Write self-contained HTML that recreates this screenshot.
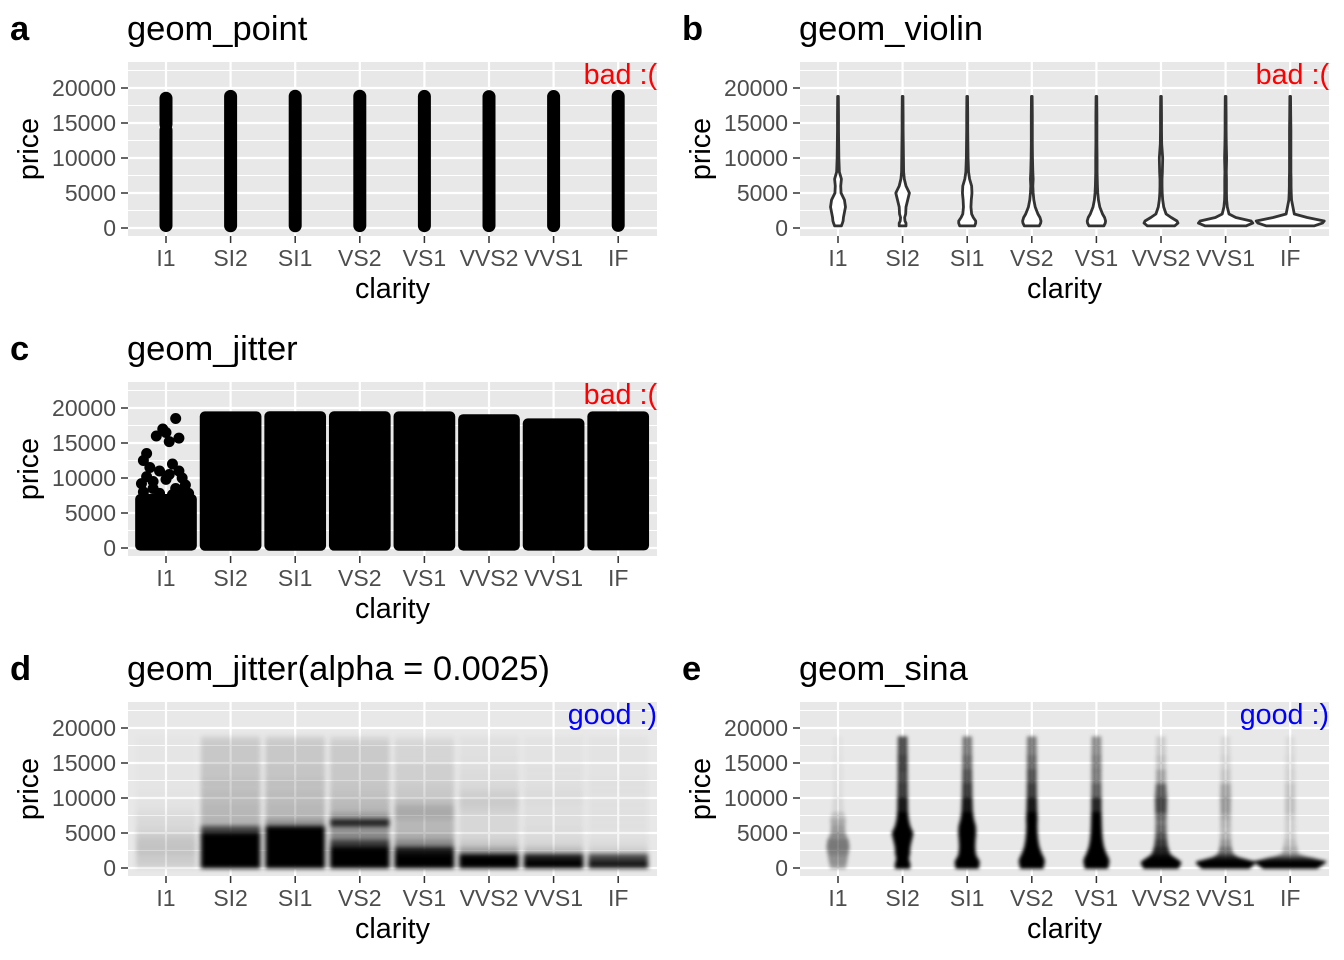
<!DOCTYPE html>
<html><head><meta charset="utf-8"><style>
html,body{margin:0;padding:0;background:#fff;}
svg{display:block;font-family:"Liberation Sans",sans-serif;}
</style></head><body>
<svg id="fig" width="1344" height="960" viewBox="0 0 1344 960" xmlns="http://www.w3.org/2000/svg">
<defs>
<filter id="blur" x="-20%" y="-5%" width="140%" height="110%"><feGaussianBlur stdDeviation="1.8"/></filter>
<filter id="blur2" x="-20%" y="-5%" width="140%" height="110%"><feGaussianBlur stdDeviation="2.5"/></filter>
</defs>
</svg>
<script>
// ---------- data ----------
const categories = ["I1","SI2","SI1","VS2","VS1","VVS2","VVS1","IF"];
const yTicks = [0,5000,10000,15000,20000];
const yTickLabels = ["0","5000","10000","15000","20000"];
// geom_point: price intervals per clarity
const pointIntervals = [
  [[345,14000],[14800,18531]],
  [[326,18804]],[[326,18818]],[[334,18823]],[[327,18795]],[[336,18768]],[[336,18777]],[[369,18806]]
];
// violin price grid and relative densities
const priceGrid = [300,700,1000,1500,2000,3000,4000,5000,6000,7000,8000,10000,12000,14000,16000,18800];
const violinDensity = [
  [10,13,15,16,18,22,19,9,8,10,4,2.5,2,1.5,1.5,1],
  [10,10,7,6,9,10,15,20,10,5,3,2.5,2,1.5,1.5,1],
  [22,25,25,18,13,11,12,14,13,7,4,2.5,2,1.5,1.5,1],
  [22,26,27,24,18,10,6,4,3,4,3,2,1.5,1.5,1.5,1],
  [22,26,27,24,18,10,6,4,3,2.5,2,2,1.5,1.5,1.5,1],
  [40,50,47,30,15,8,5,3.5,3,3,4,5,2,1.5,1.5,1],
  [60,80,75,30,10,5,3,2.5,2.5,2.5,2,3,2,1.5,1.5,1],
  [70,95,100,50,12,8,4,3,2.5,2.5,2,2,2,2,1.5,1]
];
// sina opacity per grid point
const sinaOpacity = [
  [0.3,0.35,0.35,0.35,0.4,0.5,0.45,0.35,0.3,0.25,0.1,0.05,0.04,0.03,0.03,0.02],
  [1,1,1,1,1,1,1,1,1,1,1,0.8,0.7,0.7,0.75,0.6],
  [1,1,1,1,1,1,1,1,1,1,1,0.8,0.7,0.6,0.5,0.45],
  [1,1,1,1,1,1,1,1,1,1,1,0.8,0.7,0.6,0.5,0.45],
  [1,1,1,1,1,1,1,1,1,1,1,0.7,0.5,0.45,0.45,0.35],
  [1,1,1,1,0.9,0.8,0.7,0.6,0.5,0.5,0.6,0.8,0.4,0.2,0.15,0.1],
  [1,1,1,0.9,0.6,0.4,0.3,0.2,0.2,0.25,0.3,0.4,0.2,0.1,0.1,0.05],
  [1,1,1,0.7,0.3,0.2,0.15,0.1,0.1,0.1,0.15,0.2,0.1,0.08,0.06,0.05]
];
// jitter: price range per clarity (dense part)
const jitterMin = [345,326,326,334,327,336,336,369];
const jitterMax = [7000,18804,18818,18823,18795,18400,17800,18806];
// I1 sparse points: [x offset (category units), price]
const i1Outliers = [[-0.3,13500],[-0.15,16000],[0.05,15200],[0.2,15700],[-0.05,17000],[0.0,16500],[0.15,18500],[-0.35,12500],[-0.25,11500],[-0.1,11000],[0.05,10500],[0.1,12000],[0.25,10000],[-0.2,9500],[0.3,9000],[0.15,8500],[-0.3,10200],[0.0,9800],[0.35,7800],[0.25,8200],[-0.35,8000],[-0.2,8500],[0.1,7600],[-0.1,7800],[-0.38,9200],[0.2,11000]];
// alpha jitter: opacity per 1000-price bin
const binEdges = [0,1000,2000,3000,4000,5000,6000,7000,8000,9000,10000,11000,12000,13000,14000,15000,16000,17000,18000,18823];
const jitterAlpha = [
  [0.1,0.12,0.15,0.15,0.12,0.08,0.06,0.05,0.03,0.02,0.02,0.01,0.01,0.01,0.01,0.01,0.01,0.01,0.01],
  [1,1,1,1,1,0.7,0.22,0.2,0.2,0.18,0.18,0.16,0.16,0.14,0.14,0.13,0.13,0.13,0.1],
  [1,1,1,1,1,1,0.35,0.2,0.2,0.18,0.18,0.16,0.16,0.14,0.14,0.13,0.13,0.13,0.1],
  [1,1,1,0.75,0.4,0.35,0.85,0.3,0.2,0.18,0.16,0.14,0.13,0.13,0.13,0.12,0.12,0.12,0.08],
  [1,1,0.9,0.4,0.25,0.2,0.2,0.25,0.25,0.17,0.13,0.12,0.1,0.1,0.1,0.08,0.08,0.08,0.05],
  [1,1,0.3,0.13,0.08,0.07,0.07,0.07,0.1,0.12,0.1,0.07,0.05,0.05,0.04,0.04,0.03,0.03,0.03],
  [1,0.9,0.18,0.08,0.05,0.05,0.04,0.04,0.04,0.05,0.05,0.04,0.03,0.03,0.03,0.02,0.02,0.02,0.02],
  [0.9,0.7,0.1,0.05,0.03,0.03,0.03,0.03,0.03,0.03,0.03,0.03,0.03,0.02,0.02,0.02,0.02,0.02,0.02]
];

// ---------- drawing ----------
const NS = "http://www.w3.org/2000/svg";
const svg = document.getElementById("fig");
function mk(tag, attrs, parent){
  const e = document.createElementNS(NS, tag);
  for (const k in attrs) e.setAttribute(k, attrs[k]);
  (parent||svg).appendChild(e); return e;
}
const PW = 529, PH = 174, STEP = 64.6;
function panel(ox, oy, tag, title, note, noteColor){
  const g = mk("g", {transform:`translate(${ox},${oy})`});
  
  
  const X = c => 166 + c*STEP;
  const Y = p => 228 - p*0.007;
  const bg = mk("rect",{x:128,y:62,width:PW,height:PH,fill:"#E8E8E8"},g);
  
  
  for (let p=2500; p<=22500; p+=5000) mk("line",{x1:128,x2:657,y1:Y(p),y2:Y(p),stroke:"#fff","stroke-width":1.1},g);
  yTicks.forEach(p=>mk("line",{x1:128,x2:657,y1:Y(p),y2:Y(p),stroke:"#fff","stroke-width":2.2},g));
  categories.forEach((c,i)=>mk("line",{x1:X(i),x2:X(i),y1:62,y2:236,stroke:"#fff","stroke-width":2.2},g));
  const marks = mk("g",{},g);
  
  
  yTicks.forEach((p,i)=>{
    mk("line",{x1:121,x2:128,y1:Y(p),y2:Y(p),stroke:"#333","stroke-width":1.5},g);
    const t = mk("text",{x:116,y:Y(p)+8,"text-anchor":"end","font-size":23,fill:"#4D4D4D"},g);
    t.textContent = yTickLabels[i];
    
    
  });
  categories.forEach((c,i)=>{
    mk("line",{x1:X(i),x2:X(i),y1:236,y2:243,stroke:"#333","stroke-width":1.5},g);
    const t = mk("text",{x:X(i),y:266,"text-anchor":"middle","font-size":23,fill:"#4D4D4D"},g);
    t.textContent = c;
    
    
  });
  const xt = mk("text",{x:392.5,y:298,"text-anchor":"middle","font-size":28.7,fill:"#000"},g);
  xt.textContent = "clarity";
  
  
  const yt = mk("text",{x:0,y:0,"text-anchor":"middle","font-size":28.7,fill:"#000",transform:"translate(38,149) rotate(-90)"},g);
  yt.textContent = "price";
  
  
  const tt = mk("text",{x:127,y:40,"font-size":34.5,fill:"#000"},g);
  tt.textContent = title;
  
  
  const tg = mk("text",{x:10,y:40,"font-size":34.5,"font-weight":"bold",fill:"#000"},g);
  tg.textContent = tag;
  
  
  const nt = mk("text",{x:657,y:84,"text-anchor":"end","font-size":28.7,fill:noteColor},g);
  nt.textContent = note;
  
  
  return {g:marks, X, Y};
}

// a: geom_point
(function(){
  const {g,X,Y} = panel(0,0,"a","geom_point","bad :(","#FF0000");
  pointIntervals.forEach((ivs,i)=>ivs.forEach(iv=>{
    const l = mk("line",{x1:X(i),x2:X(i),y1:Y(iv[0]),y2:Y(iv[1]),stroke:"#000","stroke-width":13,"stroke-linecap":"round"},g);
    
    
  }));
})();

// b: violin
(function(){
  const {g,X,Y} = panel(672,0,"b","geom_violin","bad :(","#FF0000");
  const S = 0.34;
  violinDensity.forEach((d,i)=>{
    let pts = [];
    priceGrid.forEach((p,k)=>pts.push([X(i)+d[k]*S, Y(p)]));
    for (let k=priceGrid.length-1;k>=0;k--) pts.push([X(i)-d[k]*S, Y(priceGrid[k])]);
    const pg = mk("polygon",{points:pts.map(q=>q.join(",")).join(" "),fill:"#fff",stroke:"#333","stroke-width":2.8,"stroke-linejoin":"round"},g);
    
    
  });
})();

// c: jitter
(function(){
  const {g,X,Y} = panel(0,320,"c","geom_jitter","bad :(","#FF0000");
  categories.forEach((c,i)=>{
    const r = mk("rect",{x:X(i)-0.4*STEP-5,y:Y(jitterMax[i])-5,width:0.8*STEP+10,height:Y(jitterMin[i])-Y(jitterMax[i])+10,rx:5,fill:"#000"},g);
    
    
  });
  i1Outliers.forEach(o=>{
    const ci = mk("circle",{cx:X(0)+o[0]*STEP,cy:Y(o[1]),r:5.5,fill:"#000"},g);
    
    
  });
})();

// d: jitter alpha
(function(){
  const {g,X,Y} = panel(0,640,"d","geom_jitter(alpha = 0.0025)","good :)","#0000FF");
  const inner = mk("g",{filter:"url(#blur2)"},g);
  jitterAlpha.forEach((a,i)=>{
    a.forEach((op,k)=>{
      const r = mk("rect",{x:X(i)-0.4*STEP-4,y:Y(binEdges[k+1]),width:0.8*STEP+8,height:Y(binEdges[k])-Y(binEdges[k+1])+0.5,fill:"#000","fill-opacity":op},inner);
      
      
    });
  });
})();

// e: sina
(function(){
  const {g,X,Y} = panel(672,640,"e","geom_sina","good :)","#0000FF");
  const inner = mk("g",{filter:"url(#blur)"},g);
  const S = 0.32;
  violinDensity.forEach((d,i)=>{
    const op = sinaOpacity[i];
    for (let k=0;k<priceGrid.length-1;k++){
      const w0 = d[k]*S+4.5, w1 = d[k+1]*S+4.5;
      const y0 = Y(priceGrid[k]), y1 = Y(priceGrid[k+1]);
      const pts = [[X(i)-w0,y0+(k===0?3:0.4)],[X(i)+w0,y0+(k===0?3:0.4)],[X(i)+w1,y1],[X(i)-w1,y1]];
      const pg = mk("polygon",{points:pts.map(q=>q.join(",")).join(" "),fill:"#000","fill-opacity":(op[k]+op[k+1])/2},inner);
      
      
    }
  });
})();
</script>
</body></html>
